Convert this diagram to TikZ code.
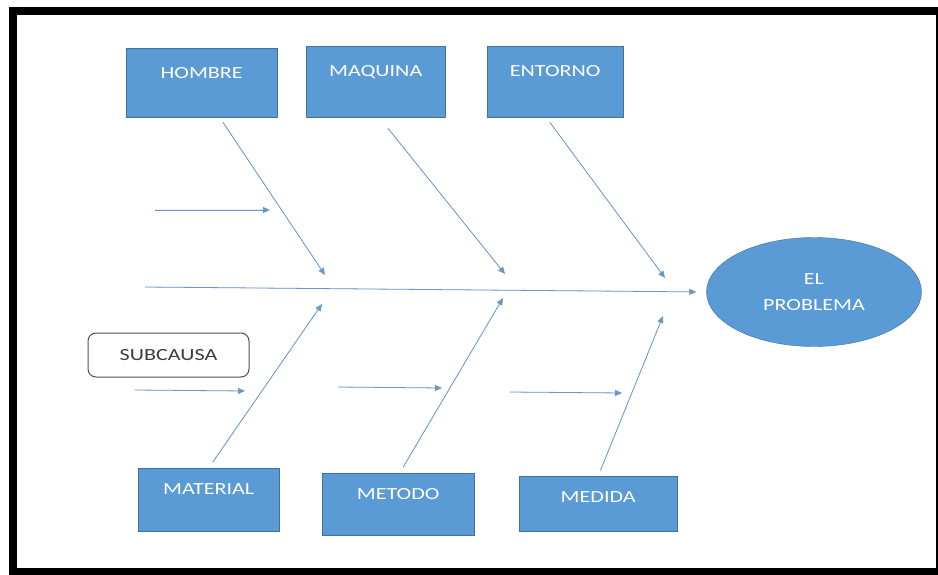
\documentclass[tikz,border=0pt]{standalone}
\usepackage{fontspec}
\newfontfamily\calibri[FakeStretch=1.3]{Carlito}
\usetikzlibrary{arrows.meta,positioning,shapes.geometric,calc}
\definecolor{cajaazul}{RGB}{91,155,213}
\definecolor{bordeazul}{RGB}{65,113,156}
\definecolor{linea}{RGB}{105,150,205}
\definecolor{gristexto}{RGB}{60,60,60}

\begin{document}
\begin{tikzpicture}[x=1pt, y=-1pt, font=\calibri\fontsize{17}{20}\selectfont,
  >={Triangle[length=7pt,width=6pt]},
  causa/.style={draw=bordeazul, fill=cajaazul, text=white, anchor=north west,
    inner sep=0pt, text height=30pt},
  espina/.style={->, draw=linea, fill=linea, line width=0.8pt}]
  % marco
  \useasboundingbox (0,0) rectangle (938,575);
  \fill[white] (0,0) rectangle (938,575);
  \fill[black] (9,7) rectangle (938,575);
  \fill[white] (17,15) rectangle (936,568);
  % causas de arriba
  \node[causa, minimum width=151pt, text depth=39pt] (hombre) at (126,48) {HOMBRE};
  \node[causa, minimum width=139pt, text depth=41pt] (maquina) at (306,46) {MAQUINA};
  \node[causa, minimum width=136pt, text depth=41pt] (entorno) at (487,46) {ENTORNO};
  % causas de abajo
  \node[causa, text height=26pt, minimum width=141pt, text depth=37pt] (material) at (138,468) {MATERIAL};
  \node[causa, text height=26pt, minimum width=152pt, text depth=36pt] (metodo) at (322,473) {METODO};
  \node[causa, text height=26pt, minimum width=158pt, text depth=29pt] (medida) at (519,476) {MEDIDA};
  % efecto
  \node[ellipse, draw=bordeazul, fill=cajaazul, text=white, align=center, inner sep=0pt,
    minimum width=215pt, minimum height=109pt] (problema) at (814,292) {EL\\[6pt]PROBLEMA};
  \node[draw=gristexto!90, line width=1pt, rounded corners=8pt, text=gristexto,
    minimum width=161pt, minimum height=44pt] (subcausa) at (168.5,355) {SUBCAUSA};
  % espina central
  \coordinate (cola) at (145,287);
  \draw[espina, shorten >=10pt] (cola) -- (problema.west);
  % espinas
  \coordinate (h1) at (325,275);
  \coordinate (m1) at (505,274);
  \coordinate (e1) at (665,278);
  \coordinate (mt1) at (322,304);
  \coordinate (me1) at (503,298);
  \coordinate (md1) at (663,316);
  \draw[espina, shorten <=6pt] ($(hombre.south)+(18,0)$) -- (h1);
  \draw[espina, shorten <=14pt] ($(maquina.south)+(3.5,0)$) -- (m1);
  \draw[espina, shorten <=6pt] ($(entorno.south)+(-9,0)$) -- (e1);
  \draw[espina, shorten <=7pt] (material.north) -- (mt1);
  \draw[espina, shorten <=7pt] ($(metodo.north)+(1.5,0)$) -- (me1);
  \draw[espina, shorten <=6pt] (medida.north) -- (md1);
  % subcausas
  \foreach \n/\xa/\ya/\xb/\yb in {1/155/210/270/210, 2/135/390/245/391,
      3/338/387/442/388, 4/510/392/622/393} {
    \coordinate (s\n a) at (\xa,\ya);
    \coordinate (s\n b) at (\xb,\yb);
    \draw[espina] (s\n a) -- (s\n b);}
\end{tikzpicture}
\end{document}
